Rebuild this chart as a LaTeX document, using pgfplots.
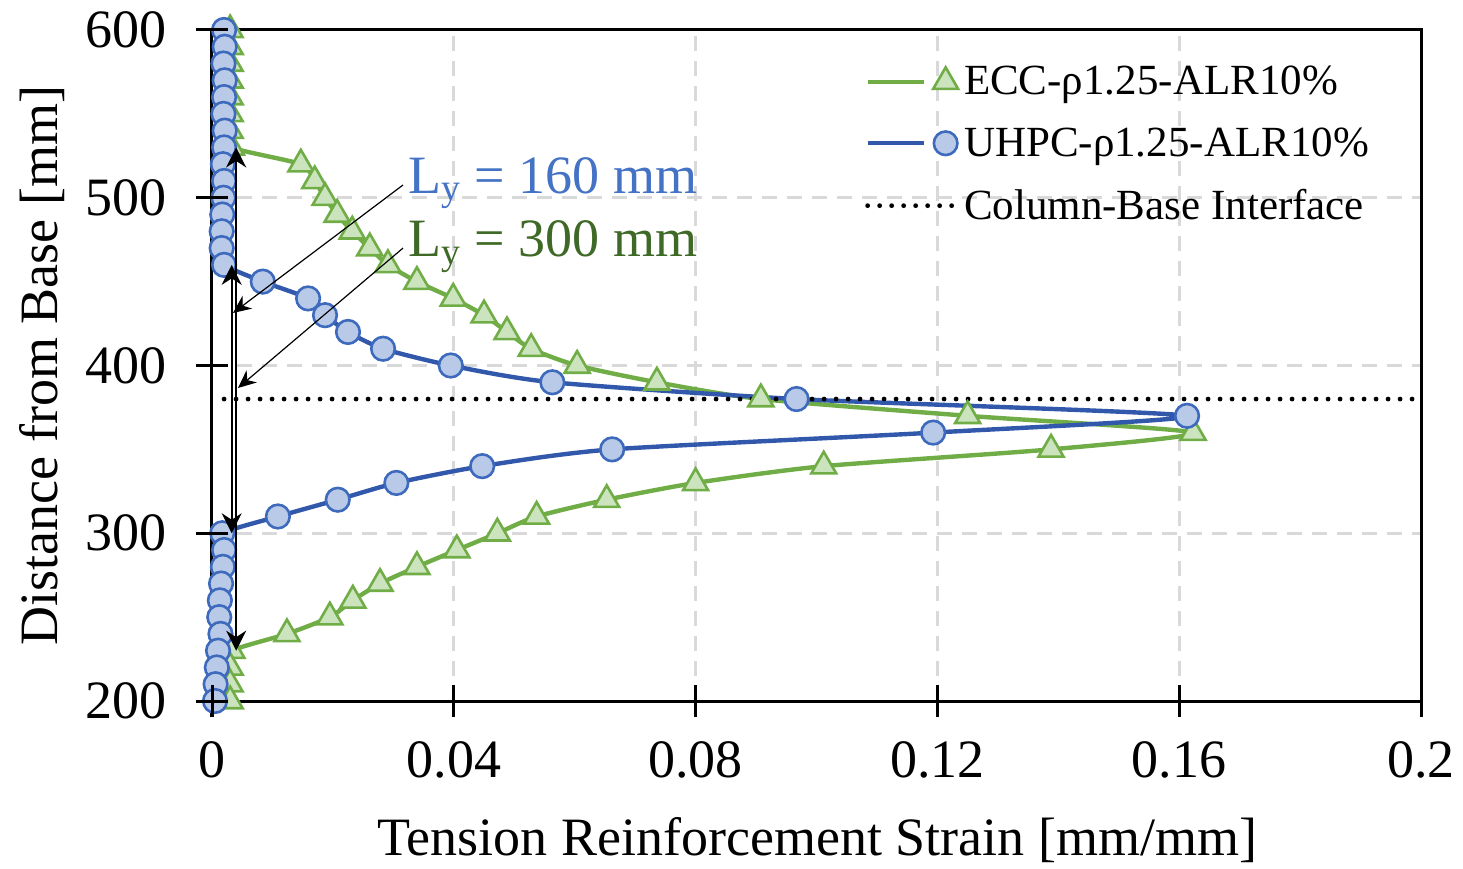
\documentclass[border=0pt]{standalone}
\usepackage{pgfplots}
\pgfplotsset{compat=1.18}
\usepackage{fontspec}
\setmainfont{Liberation Serif}
\usetikzlibrary{arrows.meta}
\definecolor{eccline}{RGB}{112,173,71}
\definecolor{eccfill}{RGB}{204,228,189}
\definecolor{uhpcline}{RGB}{50,88,172}
\definecolor{uhpcedge}{RGB}{62,106,190}
\definecolor{uhpcfill}{RGB}{185,202,232}
\definecolor{bluetxt}{RGB}{68,114,196}
\definecolor{greentxt}{RGB}{62,105,38}
\definecolor{gridgray}{RGB}{217,217,217}
\pgfplotsset{
  marklegend/.style={legend image code/.code={\draw[##1,mark=none] (0bp,0bp) -- (28bp,0bp); \draw[##1] plot coordinates {(39bp,0bp)};}},
  linelegend/.style={legend image code/.code={\draw[##1] (0bp,0bp) -- (45bp,0bp);}},
}
\begin{document}
\begin{tikzpicture}[font=\fontsize{27bp}{32bp}\selectfont]
\begin{axis}[
  scale only axis, width=604.5bp, height=335.5bp,
  xmin=0, xmax=0.2, ymin=200, ymax=600,
  xtick={0,0.04,0.08,0.12,0.16,0.2},
  xticklabels={0,0.04,0.08,0.12,0.16,0.2},
  ytick={200,300,400,500,600},
  /pgf/number format/assume math mode=true,
  tick align=center, tickwidth=16bp,
  tick pos=left,
  grid=major,
  major grid style={draw=gridgray, line width=1.5bp, dash pattern=on 7.5bp off 5bp},
  axis line style={line width=1.5bp},
  tick style={draw=black, line width=1.5bp},
  tick label style={font=\fontsize{27bp}{32bp}\selectfont},
  yticklabel style={xshift=-11bp},
  xticklabel style={yshift=-9bp},
  clip=false,
  xlabel={Tension Reinforcement Strain [mm/mm]},
  ylabel={Distance from Base [mm]},
  xlabel style={at={(axis description cs:0.5008,-0.207)}, anchor=center},
  ylabel style={at={(axis description cs:-0.1406,0.5)}, anchor=center},
  legend style={at={(0.540,0.953)}, anchor=north west, draw=none, fill=none,
    font=\fontsize{21.5bp}{25bp}\selectfont, row sep=11bp, inner sep=0pt},
  legend cell align=left,
]
\addplot[color=eccline, line width=2.2bp, smooth, tension=0.4,
  mark=triangle*, mark size=7.2bp,
  mark options={draw=eccline, fill=eccfill, line width=1.3bp, solid}, marklegend]
coordinates {(0.003,600)(0.003,590)(0.003,580)(0.003,570)(0.003,560)(0.003,550)(0.003,540)(0.0032,530)(0.0147,520)(0.0170,510)(0.0187,500)(0.0207,490)(0.0232,480)(0.0261,470)(0.0291,460)(0.0339,450)(0.0399,440)(0.0450,430)(0.0488,420)(0.0528,410)(0.0604,400)(0.0736,390)(0.0908,380)(0.1250,370)(0.1623,360)(0.1388,350)(0.1012,340)(0.0800,330)(0.0653,320)(0.0537,310)(0.0472,300)(0.0405,290)(0.0339,280)(0.0278,270)(0.0233,260)(0.0195,250)(0.0124,240)(0.0033,230)(0.003,220)(0.003,210)(0.003,200)};
\addlegendentry{ECC-ρ1.25-ALR10\%}
\addplot[color=uhpcline, line width=2.2bp, smooth, tension=0.4,
  mark=*, mark size=5.9bp,
  mark options={draw=uhpcedge, fill=uhpcfill, line width=1.3bp, solid}, marklegend]
coordinates {(0.0020,600)(0.0021,590)(0.0019,580)(0.0021,570)(0.0020,560)(0.0019,550)(0.0021,540)(0.0020,530)(0.0018,520)(0.0020,510)(0.0019,500)(0.0017,490)(0.0016,480)(0.0016,470)(0.0020,460)(0.0084,450)(0.0159,440)(0.0187,430)(0.0225,420)(0.0283,410)(0.0395,400)(0.0563,390)(0.0967,380)(0.1613,370)(0.1193,360)(0.0662,350)(0.0447,340)(0.0305,330)(0.0208,320)(0.0109,310)(0.0017,300)(0.0020,290)(0.0018,280)(0.0015,270)(0.0013,260)(0.0012,250)(0.0014,240)(0.0010,230)(0.0008,220)(0.0006,210)(0.0005,200)};
\addlegendentry{UHPC-ρ1.25-ALR10\%}
\addplot[black, line width=2.4bp, line cap=round, dash pattern=on 0bp off 6bp, linelegend]
coordinates {(0.002,380)(0.2,380)};
\addlegendentry{Column-Base Interface}
\coordinate (SW) at (rel axis cs:0,0);
\coordinate (X0) at (axis cs:0,200);
\coordinate (X1) at (axis cs:0.04,200);
\coordinate (X2) at (axis cs:0.08,200);
\coordinate (X3) at (axis cs:0.12,200);
\coordinate (X4) at (axis cs:0.16,200);
\coordinate (X5) at (axis cs:0.2,200);
\coordinate (Y1) at (axis cs:0,300);
\coordinate (Y2) at (axis cs:0,400);
\coordinate (Y3) at (axis cs:0,500);
\coordinate (Y4) at (axis cs:0,600);
\coordinate (A1) at (axis cs:0.00326,460);
\coordinate (A2) at (axis cs:0.00326,300);
\coordinate (B1) at (axis cs:0.0040,530);
\coordinate (B2) at (axis cs:0.0040,230);
\coordinate (C1) at (axis cs:0.0316,507.6);
\coordinate (C2) at (axis cs:0.00347,431.3);
\coordinate (D1) at (axis cs:0.0316,470);
\coordinate (D2) at (axis cs:0.0043,386.6);
\node[anchor=base west, text=bluetxt, inner sep=0pt] at (axis cs:0.0324,502.7) {L\textsubscript{y} = 160 mm};
\node[anchor=base west, text=greentxt, inner sep=0pt] at (axis cs:0.0324,464.9) {L\textsubscript{y} = 300 mm};
\end{axis}
\foreach \n in {X0,X1,X2,X3,X4,X5} {
  \draw[black, line width=1.5bp] ([yshift=-8bp]\n) -- ([yshift=8bp]\n);
}
\foreach \n in {X0,Y1,Y2,Y3,Y4} {
  \draw[black, line width=1.5bp] ([xshift=-8bp]\n) -- ([xshift=8bp]\n);
}
\draw[line width=0.8bp, {Stealth[length=10bp,width=10bp]}-{Stealth[length=10bp,width=10bp]}] (A1) -- (A2);
\draw[line width=0.8bp, {Stealth[length=10bp,width=10bp]}-{Stealth[length=10bp,width=10bp]}] (B1) -- (B2);
\draw[line width=0.6bp, -{Stealth[length=9bp,width=8bp]}] (C1) -- (C2);
\draw[line width=0.6bp, -{Stealth[length=9bp,width=8bp]}] (D1) -- (D2);
\pgfresetboundingbox
\path[use as bounding box] ([shift={(-106bp,-84bp)}]SW) rectangle ([shift={(625.5bp,350.5bp)}]SW);
\end{tikzpicture}
\end{document}
